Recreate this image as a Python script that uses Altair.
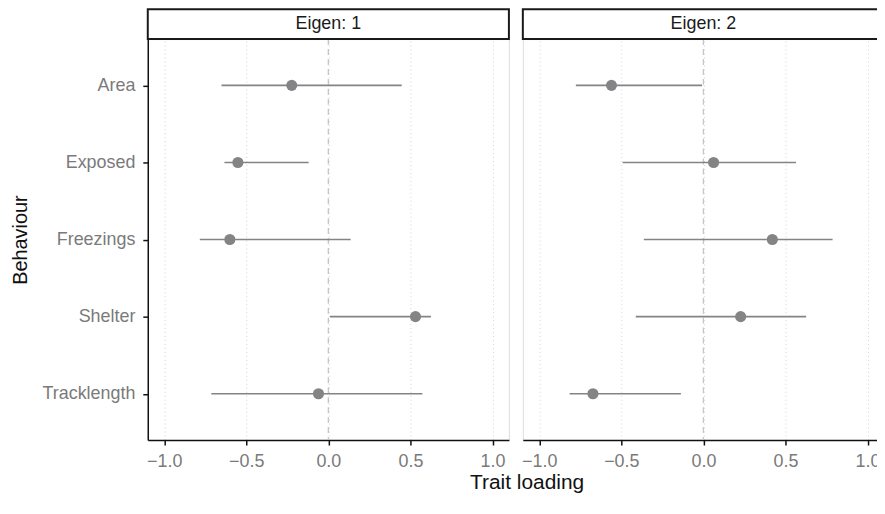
import altair as alt
import pandas as pd

behaviours = ["Area", "Exposed", "Freezings", "Shelter", "Tracklength"]

eigen1_est = [-0.223, -0.551, -0.600, 0.531, -0.060]
eigen1_lo = [-0.651, -0.633, -0.783, 0.010, -0.713]
eigen1_hi = [0.447, -0.120, 0.136, 0.625, 0.573]

eigen2_est = [-0.560, 0.062, 0.420, 0.227, -0.673]
eigen2_lo = [-0.777, -0.492, -0.363, -0.412, -0.815]
eigen2_hi = [-0.008, 0.564, 0.787, 0.626, -0.137]

x_ticks = [-1.0, -0.5, 0.0, 0.5, 1.0]
panel_labels = ["Eigen: 1", "Eigen: 2"]

FONT = "Liberation Sans"
W = 363
H = 403
STRIP = 30
GRAY = "#848487"
LABEL = "#7a7a7a"


def panel(est, lo, hi, label, first):
    df = pd.DataFrame({"Behaviour": behaviours, "est": est, "lo": lo, "hi": hi})
    xscale = alt.Scale(domain=[-1.1, 1.1], nice=False, zero=False)
    yscale = alt.Scale(type="point", padding=0.6, domain=behaviours)
    xaxis = alt.Axis(
        values=x_ticks, format=".1f", title=None, grid=True,
        gridDash=[1, 3], gridColor="#d4d4d4", gridWidth=1,
        domainColor="#111111", domainWidth=1.5, tickColor="#111111",
        tickWidth=1.5, tickSize=5, labelColor=LABEL, labelFontSize=18,
        labelFont=FONT, labelPadding=8,
    )
    if first:
        yaxis = alt.Axis(
            title="Behaviour", titleFont=FONT, titleFontSize=20,
            titleFontWeight="normal", titleColor="#111111", titlePadding=12,
            domainColor="#111111", domainWidth=1.5, tickColor="#111111",
            tickWidth=1.5, tickSize=5, labelColor=LABEL, labelFontSize=18,
            labelFont=FONT, labelPadding=8, grid=False,
        )
    else:
        yaxis = None

    zero = alt.Chart(pd.DataFrame({"z": [0.0]})).mark_rule(
        color="#c6c6c6", strokeDash=[6, 4], strokeWidth=1.3
    ).encode(x=alt.X("z:Q", scale=xscale, axis=xaxis))

    bars = alt.Chart(df).mark_rule(color=GRAY, strokeWidth=1.6).encode(
        x=alt.X("lo:Q", scale=xscale, axis=xaxis),
        x2="hi:Q",
        y=alt.Y("Behaviour:N", scale=yscale, axis=yaxis, sort=behaviours),
    )
    pts = alt.Chart(df).mark_circle(color=GRAY, size=125, opacity=1).encode(
        x=alt.X("est:Q", scale=xscale, axis=xaxis),
        y=alt.Y("Behaviour:N", scale=yscale, axis=yaxis, sort=behaviours),
    )

    sdf = pd.DataFrame({"t": [label]})
    box = alt.Chart(sdf).mark_rect(
        fill="white", stroke="#1a1a1a", strokeWidth=2
    ).encode(
        x=alt.value(0), x2=alt.value(W), y=alt.value(-STRIP), y2=alt.value(0)
    )
    txt = alt.Chart(sdf).mark_text(
        font=FONT, fontSize=18, color="#1a1a1a", baseline="middle", align="center"
    ).encode(text="t:N", x=alt.value(W / 2), y=alt.value(-STRIP / 2))

    return alt.layer(zero, bars, pts, box, txt).properties(width=W, height=H)


p1 = panel(eigen1_est, eigen1_lo, eigen1_hi, panel_labels[0], True)
p2 = panel(eigen2_est, eigen2_lo, eigen2_hi, panel_labels[1], False)

chart = alt.hconcat(p1, p2, spacing=10).properties(
    title=alt.TitleParams(
        text="Trait loading", orient="bottom", anchor="middle", dx=80,
        font=FONT, fontSize=21, fontWeight="normal", color="#111111", offset=1,
    ),
    padding={"left": 1.5, "top": -2, "right": -9, "bottom": -2},
).configure_view(stroke=None).configure(background="white")

chart.save("out.html", embed_options={"renderer": "svg", "actions": False})
